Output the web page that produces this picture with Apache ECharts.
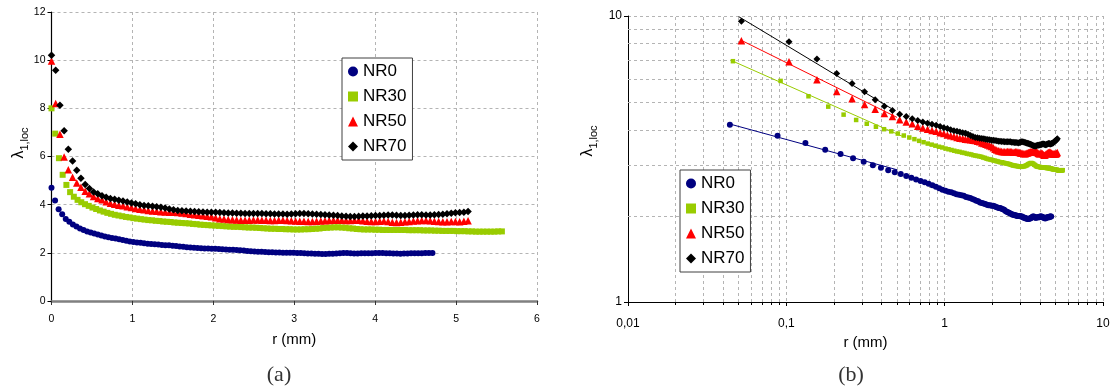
<!DOCTYPE html>
<html><head><meta charset="utf-8">
<script src="https://cdn.jsdelivr.net/npm/echarts@6/dist/echarts.min.js"></script>
<style>html,body{margin:0;padding:0;background:#fff}#c{width:1117px;height:390px}</style>
</head><body><div id="c"></div>
<script>
// ---------- data ----------
const seriesNames = ['NR0', 'NR30', 'NR50', 'NR70'];

const nr0R = [0,0.044,0.088,0.132,0.176,0.22,0.264,0.308,0.352,0.396,
0.44,0.484,0.528,0.572,0.616,0.66,0.704,0.748,0.792,0.836,
0.88,0.924,0.968,1.012,1.056,1.1,1.144,1.188,1.232,1.276,
1.32,1.364,1.408,1.452,1.496,1.54,1.584,1.628,1.672,1.716,
1.76,1.804,1.848,1.892,1.936,1.98,2.024,2.068,2.112,2.156,
2.2,2.244,2.288,2.332,2.376,2.42,2.464,2.508,2.552,2.596,
2.64,2.684,2.728,2.772,2.816,2.86,2.904,2.948,2.992,3.036,
3.08,3.124,3.168,3.212,3.256,3.3,3.344,3.388,3.432,3.476,
3.52,3.564,3.608,3.652,3.696,3.74,3.784,3.828,3.872,3.916,
3.96,4.004,4.048,4.092,4.136,4.18,4.224,4.268,4.312,4.356,
4.4,4.444,4.488,4.532,4.576,4.62,4.664,4.708];
const nr0L = [4.70,4.17,3.81,3.60,3.41,3.29,3.18,3.09,3.01,2.95,
2.89,2.84,2.80,2.76,2.72,2.68,2.65,2.62,2.59,2.56,
2.53,2.50,2.47,2.45,2.43,2.42,2.40,2.38,2.37,2.36,
2.35,2.33,2.32,2.31,2.29,2.28,2.26,2.25,2.23,2.22,
2.21,2.20,2.19,2.18,2.18,2.17,2.17,2.16,2.15,2.14,
2.13,2.13,2.12,2.11,2.10,2.08,2.07,2.06,2.05,2.04,
2.03,2.02,2.02,2.01,2.01,2.00,2.00,2.00,2.00,1.99,
1.99,1.98,1.97,1.97,1.96,1.96,1.95,1.95,1.96,1.96,
1.97,1.98,1.99,1.99,1.98,1.97,1.97,1.98,1.98,1.98,
1.98,1.99,1.99,1.99,1.98,1.98,1.97,1.97,1.96,1.97,
1.97,1.98,1.98,1.98,1.98,1.99,1.99,1.99];

const nr30R = [0,0.046,0.092,0.138,0.184,0.23,0.276,0.322,0.368,0.414,
0.46,0.506,0.552,0.598,0.644,0.69,0.736,0.782,0.828,0.874,
0.92,0.966,1.012,1.058,1.104,1.15,1.196,1.242,1.288,1.334,
1.38,1.426,1.472,1.518,1.564,1.61,1.656,1.702,1.748,1.794,
1.84,1.886,1.932,1.978,2.024,2.07,2.116,2.162,2.208,2.254,
2.3,2.346,2.392,2.438,2.484,2.53,2.576,2.622,2.668,2.714,
2.76,2.806,2.852,2.898,2.944,2.99,3.036,3.082,3.128,3.174,
3.22,3.266,3.312,3.358,3.404,3.45,3.496,3.542,3.588,3.634,
3.68,3.726,3.772,3.818,3.864,3.91,3.956,4.002,4.048,4.094,
4.14,4.186,4.232,4.278,4.324,4.37,4.416,4.462,4.508,4.554,
4.6,4.646,4.692,4.738,4.784,4.83,4.876,4.922,4.968,5.014,
5.06,5.106,5.152,5.198,5.244,5.29,5.336,5.382,5.428,5.474,
5.52,5.566];
const nr30L = [8.00,6.95,5.93,5.24,4.82,4.52,4.33,4.20,4.10,4.02,
3.95,3.88,3.82,3.76,3.71,3.66,3.62,3.58,3.55,3.52,
3.49,3.47,3.44,3.42,3.40,3.38,3.36,3.35,3.33,3.32,
3.30,3.29,3.28,3.26,3.25,3.24,3.23,3.22,3.20,3.19,
3.17,3.16,3.15,3.14,3.13,3.12,3.11,3.10,3.09,3.08,
3.08,3.07,3.06,3.05,3.05,3.04,3.03,3.02,3.01,3.00,
3.00,2.99,2.99,2.98,2.98,2.97,2.97,2.97,2.98,2.98,
2.99,3.00,3.01,3.03,3.04,3.05,3.06,3.06,3.05,3.04,
3.02,3.01,2.99,2.98,2.97,2.97,2.97,2.96,2.96,2.95,
2.95,2.95,2.95,2.95,2.95,2.95,2.94,2.94,2.94,2.94,
2.93,2.93,2.93,2.92,2.92,2.91,2.91,2.91,2.91,2.90,
2.90,2.90,2.89,2.89,2.88,2.88,2.88,2.88,2.88,2.88,
2.89,2.89];

// NR50 and NR70 share the same radial positions
const nr5070R = [0,0.052,0.104,0.156,0.208,0.26,0.312,0.364,0.416,0.468,
0.52,0.572,0.624,0.676,0.728,0.78,0.832,0.884,0.936,0.988,
1.04,1.092,1.144,1.196,1.248,1.3,1.352,1.404,1.456,1.508,
1.56,1.612,1.664,1.716,1.768,1.82,1.872,1.924,1.976,2.028,
2.08,2.132,2.184,2.236,2.288,2.34,2.392,2.444,2.496,2.548,
2.6,2.652,2.704,2.756,2.808,2.86,2.912,2.964,3.016,3.068,
3.12,3.172,3.224,3.276,3.328,3.38,3.432,3.484,3.536,3.588,
3.64,3.692,3.744,3.796,3.848,3.9,3.952,4.004,4.056,4.108,
4.16,4.212,4.264,4.316,4.368,4.42,4.472,4.524,4.576,4.628,
4.68,4.732,4.784,4.836,4.888,4.94,4.992,5.044,5.096,5.148];
const nr50L = [9.97,8.20,6.92,5.98,5.45,5.14,4.90,4.72,4.56,4.45,
4.34,4.26,4.20,4.12,4.06,4.02,3.98,3.95,3.91,3.88,
3.84,3.81,3.79,3.76,3.74,3.73,3.71,3.70,3.69,3.68,
3.67,3.65,3.63,3.60,3.58,3.56,3.54,3.52,3.50,3.46,
3.42,3.40,3.38,3.37,3.36,3.35,3.35,3.35,3.36,3.36,
3.35,3.35,3.34,3.34,3.35,3.35,3.34,3.33,3.32,3.31,
3.31,3.30,3.30,3.31,3.32,3.33,3.34,3.35,3.35,3.35,
3.34,3.34,3.35,3.35,3.33,3.31,3.30,3.30,3.31,3.32,
3.30,3.27,3.26,3.27,3.29,3.30,3.32,3.33,3.34,3.34,
3.33,3.31,3.30,3.29,3.29,3.30,3.30,3.29,3.31,3.33];
const nr70L = [10.20,9.58,8.13,7.07,6.30,5.81,5.43,5.10,4.84,4.67,
4.53,4.45,4.37,4.31,4.26,4.22,4.18,4.15,4.11,4.07,
4.04,4.00,3.97,3.95,3.93,3.91,3.89,3.86,3.82,3.79,
3.76,3.75,3.74,3.73,3.72,3.71,3.70,3.69,3.68,3.68,
3.67,3.66,3.65,3.65,3.64,3.64,3.63,3.63,3.63,3.63,
3.63,3.62,3.62,3.61,3.61,3.61,3.60,3.61,3.62,3.63,
3.63,3.62,3.61,3.60,3.59,3.58,3.57,3.56,3.55,3.53,
3.52,3.51,3.51,3.52,3.53,3.53,3.54,3.55,3.55,3.56,
3.57,3.57,3.56,3.55,3.55,3.56,3.57,3.58,3.58,3.57,
3.57,3.58,3.59,3.60,3.62,3.64,3.66,3.67,3.69,3.72];

// power-law fit lines (end points) drawn in the log-log chart
const fit0R = [0.044, 0.5],  fit0L = [4.19, 2.90];
const fit30R = [0.046, 0.55], fit30L = [6.95, 3.78];
const fit50R = [0.052, 0.5],  fit50L = [8.22, 4.42];
const fit70R = [0.05, 0.46],  fit70L = [9.95, 4.75];

// axes / grid values
const linXTicks = [0, 6, 1];        // min, max, step
const linYTicks = [0, 12, 2];
const logXRange = [0.01, 10];
const logYRange = [1, 10];
const minorX = [0.02,0.03,0.04,0.05,0.06,0.07,0.08,0.09,0.2,0.3,0.4,0.5,0.6,0.7,0.8,0.9,2,3,4,5,6,7,8,9];
const minorY = [2,3,4,5,6,7,8,9];

// ---------- styling ----------
const colors = ['#000080', '#99cc00', '#ff0000', '#000000'];
const symbols = ['circle', 'rect', 'triangle', 'diamond'];
const linSizes = [6, 6, 7.5, 7.5];
const logSizes = [6, 4.5, 7.5, 7];
const FONT = 'Liberation Sans, Arial, sans-serif';
const gridDash = {color: '#b4b4b4', type: [3, 3], width: 1};

const rs = [nr0R, nr30R, nr5070R, nr5070R];
const ls = [nr0L, nr30L, nr50L, nr70L];
const fits = [[fit0R, fit0L], [fit30R, fit30L], [fit50R, fit50L], [fit70R, fit70L]];
const zip = (a, b) => a.map((v, i) => [v, b[i]]);

const series = [];
seriesNames.forEach((n, i) => {
  series.push({
    type: 'scatter', name: n, xAxisIndex: 0, yAxisIndex: 0,
    data: zip(rs[i], ls[i]), symbol: symbols[i], symbolSize: linSizes[i],
    itemStyle: {color: colors[i], opacity: 1}, z: 3 + i
  });
});
seriesNames.forEach((n, i) => {
  series.push({
    type: 'scatter', name: n, xAxisIndex: 1, yAxisIndex: 1,
    data: zip(rs[i], ls[i]).filter(p => p[0] > 0), symbol: symbols[i], symbolSize: logSizes[i],
    itemStyle: {color: colors[i], opacity: 1}, z: 3 + i
  });
  series.push({
    type: 'line', name: n + ' fit', xAxisIndex: 1, yAxisIndex: 1,
    data: zip(fits[i][0], fits[i][1]), showSymbol: false, symbol: 'none',
    lineStyle: {color: colors[i], width: 1}, z: 3 + i, silent: true
  });
});
// minor log grid lines
series.push({
  type: 'scatter', name: 'minor grid', xAxisIndex: 1, yAxisIndex: 1, data: [], z: 1, silent: true,
  markLine: {
    z: 1, zlevel: 0,
    silent: true, symbol: ['none', 'none'], label: {show: false}, animation: false,
    lineStyle: gridDash, emphasis: {disabled: true},
    data: minorX.map(v => ({xAxis: v})).concat(minorY.map(v => ({yAxis: v})))
  }
});

const legendData = seriesNames.map((n, i) => ({name: n, icon: symbols[i]}));
const legendCommon = {
  orient: 'vertical', data: legendData, selectedMode: false,
  backgroundColor: '#fff', borderColor: '#404040', borderWidth: 1,
  padding: [5, 6, 5, 6], itemWidth: 10, itemHeight: 10, itemGap: 8,
  textStyle: {fontFamily: FONT, fontSize: 17, color: '#000'}
};

const lamRich = {
  a: {fontFamily: FONT, fontSize: 16, lineHeight: 22, verticalAlign: 'middle', color: '#000'},
  b: {fontFamily: FONT, fontSize: 11, verticalAlign: 'bottom', color: '#000'}
};

const option = {
  animation: false,
  backgroundColor: '#fff',
  grid: [
    {left: 51.5, top: 12, width: 485.5, height: 289},
    {left: 628, top: 16, width: 475, height: 286}
  ],
  xAxis: [
    {
      type: 'value', gridIndex: 0, min: linXTicks[0], max: linXTicks[1], interval: linXTicks[2],
      name: 'r (mm)', nameLocation: 'middle', nameGap: 31,
      nameTextStyle: {fontFamily: FONT, fontSize: 15, color: '#000'},
      axisLine: {show: true, onZero: false, lineStyle: {color: '#808080', width: 2.5}},
      axisTick: {show: true, length: 4, lineStyle: {color: '#333'}},
      axisLabel: {fontFamily: FONT, fontSize: 10.5, color: '#000', margin: 13},
      splitLine: {show: true, lineStyle: gridDash}
    },
    {
      type: 'log', gridIndex: 1, logBase: 10, min: logXRange[0], max: logXRange[1],
      name: 'r (mm)', nameLocation: 'middle', nameGap: 30,
      nameTextStyle: {fontFamily: FONT, fontSize: 15, color: '#000'},
      axisLine: {show: true, onZero: false, lineStyle: {color: '#000', width: 1}},
      axisTick: {show: true, length: 4, lineStyle: {color: '#000'}},
      minorTick: {show: true, splitNumber: 9, length: 3, lineStyle: {color: '#000'}},
      axisLabel: {fontFamily: FONT, fontSize: 12, color: '#000', margin: 16,
        formatter: v => String(+v.toPrecision(6)).replace('.', ',')},
      splitLine: {show: true, lineStyle: gridDash}
    }
  ],
  yAxis: [
    {
      type: 'value', gridIndex: 0, min: linYTicks[0], max: linYTicks[1], interval: linYTicks[2],
      axisLine: {show: true, onZero: false, lineStyle: {color: '#000', width: 1.2}},
      axisTick: {show: true, length: 4, lineStyle: {color: '#000'}},
      axisLabel: {fontFamily: FONT, fontSize: 10.5, color: '#000', margin: 6},
      splitLine: {show: true, lineStyle: gridDash}
    },
    {
      type: 'log', gridIndex: 1, logBase: 10, min: logYRange[0], max: logYRange[1],
      axisLine: {show: true, onZero: false, lineStyle: {color: '#000', width: 1}},
      axisTick: {show: true, length: 4, lineStyle: {color: '#000'}},
      axisLabel: {fontFamily: FONT, fontSize: 12, color: '#000', margin: 6},
      splitLine: {show: true, lineStyle: gridDash}
    }
  ],
  legend: [
    Object.assign({left: 342, top: 58}, legendCommon),
    Object.assign({left: 680, top: 170}, legendCommon)
  ],
  graphic: [
    {type: 'text', x: 19, y: 143, rotation: Math.PI / 2,
      style: {text: '{a|λ}{b|1,loc}', rich: lamRich, align: 'center', verticalAlign: 'middle'}},
    {type: 'text', x: 588, y: 141, rotation: Math.PI / 2,
      style: {text: '{a|λ}{b|1,loc}', rich: lamRich, align: 'center', verticalAlign: 'middle'}},
    {type: 'text', x: 279, y: 375,
      style: {text: '(a)', font: '22px "Liberation Serif", serif', fill: '#333', align: 'center', verticalAlign: 'middle'}},
    {type: 'text', x: 851, y: 375,
      style: {text: '(b)', font: '22px "Liberation Serif", serif', fill: '#333', align: 'center', verticalAlign: 'middle'}}
  ],
  series: series
};

const chart = echarts.init(document.getElementById('c'), null, {renderer: 'canvas'});
chart.setOption(option);
</script>
</body></html>
